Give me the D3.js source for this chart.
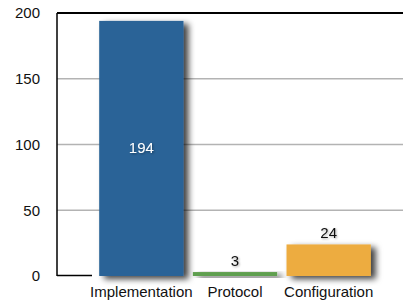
<!DOCTYPE html>
<html>
<head>
<meta charset="utf-8">
<script src="https://cdn.jsdelivr.net/npm/d3@7"></script>
<style>
  body { margin: 0; background: #fff; }
  text { font-family: "Liberation Sans", Arial, sans-serif; }
</style>
</head>
<body>
<div id="chart"></div>
<script>
// data
var categories = ["Implementation", "Protocol", "Configuration"];
var values = [194, 3, 24];
var colors = ["#2a6497", "#5f9f4f", "#edac3f"];
var yTicks = [0, 50, 100, 150, 200];

var W = 403, H = 300;
var plotLeft = 57, plotTop = 13, plotBottom = 276;

var svg = d3.select("#chart")
  .append("svg")
    .attr("width", W)
    .attr("height", H);

// shadow filters
var defs = svg.append("defs");
var f = defs.append("filter").attr("id", "shadow")
  .attr("x", "-20%").attr("y", "-20%").attr("width", "150%").attr("height", "150%");
f.append("feDropShadow")
  .attr("dx", 5).attr("dy", 3).attr("stdDeviation", 3)
  .attr("flood-color", "#000").attr("flood-opacity", 0.75);
var ft = defs.append("filter").attr("id", "tshadow")
  .attr("x", "-30%").attr("y", "-30%").attr("width", "160%").attr("height", "160%");
ft.append("feDropShadow")
  .attr("dx", 1).attr("dy", 1).attr("stdDeviation", 1)
  .attr("flood-color", "#000").attr("flood-opacity", 0.35);

// scales
var y = d3.scaleLinear()
  .domain([0, 200])
  .range([plotBottom, plotTop]);

var x = d3.scaleBand()
  .domain(categories)
  .range([94.5, 375.5])
  .paddingInner(0.1)
  .paddingOuter(0.05);

// grid lines
svg.append("g")
  .selectAll("line")
  .data(yTicks.filter(function(d){ return d > 0 && d < 200; }))
  .enter()
  .append("line")
    .attr("x1", plotLeft)
    .attr("x2", W)
    .attr("y1", function(d){ return y(d); })
    .attr("y2", function(d){ return y(d); })
    .attr("stroke", "#b3b3b3")
    .attr("stroke-width", 1.5);

// y axis labels
var yAxis = svg.append("g")
  .attr("transform", "translate(" + plotLeft + ",0)")
  .call(d3.axisLeft(y).tickValues(yTicks).tickSize(0).tickPadding(17));
yAxis.select(".domain").remove();
yAxis.selectAll("text")
  .style("font-size", "15px")
  .attr("fill", "#111");

// frame: top and left
svg.append("line")
  .attr("x1", plotLeft).attr("x2", W)
  .attr("y1", plotTop).attr("y2", plotTop)
  .attr("stroke", "#000").attr("stroke-width", 2);
svg.append("line")
  .attr("x1", plotLeft).attr("x2", plotLeft)
  .attr("y1", plotTop).attr("y2", plotBottom)
  .attr("stroke", "#000").attr("stroke-width", 1.5);
svg.append("line")
  .attr("x1", plotLeft).attr("x2", 92)
  .attr("y1", plotBottom - 0.5).attr("y2", plotBottom - 0.5)
  .attr("stroke", "#000").attr("stroke-width", 1.5);

// baseline
svg.append("line")
  .attr("x1", 90).attr("x2", 391)
  .attr("y1", y(0)).attr("y2", y(0))
  .attr("stroke", "#000").attr("stroke-width", 2.5)
  .attr("filter", "url(#shadow)");

// bars
svg.append("g")
  .selectAll("rect")
  .data(values)
  .enter()
  .append("rect")
    .attr("x", function(d, i){ return x(categories[i]); })
    .attr("y", function(d){ return y(d); })
    .attr("width", x.bandwidth())
    .attr("height", function(d){ return y(0) - y(d); })
    .attr("fill", function(d, i){ return colors[i]; })
    .attr("filter", "url(#shadow)");

// value labels
svg.append("g")
  .selectAll("text")
  .data(values)
  .enter()
  .append("text")
    .attr("x", function(d, i){ return x(categories[i]) + x.bandwidth() / 2; })
    .attr("y", function(d){
      return d > 100 ? (y(d) + y(0)) / 2 + 5 : y(d) - 6;
    })
    .attr("text-anchor", "middle")
    .style("font-size", "15px")
    .attr("fill", function(d){ return d > 100 ? "#fff" : "#111"; })
    .attr("filter", "url(#tshadow)")
    .text(function(d){ return d; });

// x labels
svg.append("g")
  .selectAll("text")
  .data(categories)
  .enter()
  .append("text")
    .attr("x", function(d){ return x(d) + x.bandwidth() / 2; })
    .attr("y", 297)
    .attr("text-anchor", "middle")
    .style("font-size", "15px")
    .attr("fill", "#111")
    .text(function(d){ return d; });
</script>
</body>
</html>
